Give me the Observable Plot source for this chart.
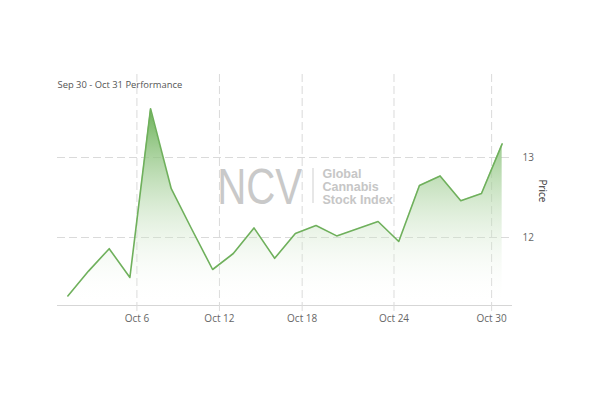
<!DOCTYPE html>
<html><head><meta charset="utf-8">
<script src="https://cdn.jsdelivr.net/npm/d3@7"></script>
<script src="https://cdn.jsdelivr.net/npm/@observablehq/plot@0.6"></script>
<style>body{margin:0;background:#fff}</style>
</head><body><div id="chart"></div>
<script>
// Daily closing prices, Sep 30 – Oct 31 (one value per trading session)
const prices = [11.27, 11.58, 11.86, 11.50, 13.61, 12.61, 12.10, 11.60, 11.80, 12.12, 11.74,
                12.05, 12.15, 12.02, 12.11, 12.20, 11.95, 12.65, 12.77, 12.46, 12.55, 13.17];
const tickLabels = ["Oct 6", "Oct 12", "Oct 18", "Oct 24", "Oct 30"];
const tickPositions = [3.34, 7.33, 11.33, 15.77, 20.49]; // position in session index units
const yTicks = [12, 13];
const subtitle = "Sep 30 - Oct 31 Performance";
const yLabel = "Price";
const watermarkBig = "NCV";
const watermarkSmall = "Global\nCannabis\nStock Index";

const data = prices.map((p, i) => ({i, p}));
const yMin = 11.15, yMax = 14.0375;
const font = "'Open Sans', 'DejaVu Sans', sans-serif";
const gridStyle = {stroke: "#dadada", strokeOpacity: 1, strokeDasharray: "8,4"};

const chart = Plot.plot({
  width: 600, height: 399,
  marginLeft: 57, marginRight: 88, marginTop: 74, marginBottom: 94,
  style: {fontFamily: font, background: "#fff"},
  x: {type: "linear", domain: [-0.5, prices.length - 0.5]},
  y: {domain: [yMin, yMax]},
  marks: [
    Plot.gridY(yTicks, gridStyle),
    Plot.gridX(tickPositions, gridStyle),
    Plot.text([watermarkBig], {frameAnchor: "top-left", dx: 159.7, dy: 94, lineAnchor: "top", textAnchor: "start",
      fontSize: 50, fill: "#c9c9c9", fontFamily: "'Liberation Sans', Arial, sans-serif", className: "wm-big"}),
    Plot.text([watermarkSmall], {frameAnchor: "top-left", dx: 265, dy: 94.5, lineAnchor: "top", textAnchor: "start",
      fontSize: 12.5, lineHeight: 1.02, fontWeight: "bold", fill: "#c6c6c6", fontFamily: "'Liberation Sans', Arial, sans-serif"}),
    Plot.areaY(data, {x: "i", y1: yMin, y2: "p", fill: "url(#areaGrad)", curve: "linear"}),
    Plot.lineY(data, {x: "i", y: "p", stroke: "#6fb05c", strokeWidth: 1.6, curve: "linear"}),
    Plot.ruleY([yMin], {stroke: "#d6d6d6"}),
    Plot.axisX(tickPositions, {tickFormat: d => tickLabels[tickPositions.indexOf(d)], tickSize: 6, tickPadding: 3,
      stroke: "#dcdcdc", fill: "#666", fontSize: 10, label: null}),
    Plot.axisY(yTicks, {anchor: "right", tickSize: 0, tickPadding: 10, tickFormat: d => String(d),
      fill: "#666", fontSize: 10, label: null}),
    Plot.text([yLabel], {frameAnchor: "right", dx: 30, dy: 12.5, rotate: 90, fontSize: 10, fill: "#333"}),
    Plot.text([subtitle], {frameAnchor: "top-left", dx: 0, dy: 6.7, lineAnchor: "top", textAnchor: "start",
      fontSize: 9.4, fill: "#555"})
  ]
});

// gradient definition for the area fill
const svg = d3.select(chart);
const defs = svg.insert("defs", ":first-child");
const grad = defs.append("linearGradient").attr("id", "areaGrad")
  .attr("x1", 0).attr("y1", 0).attr("x2", 0).attr("y2", 1);
grad.append("stop").attr("offset", "0%").attr("stop-color", "#6cb258").attr("stop-opacity", 1);
grad.append("stop").attr("offset", "100%").attr("stop-color", "#ffffff").attr("stop-opacity", 0);

// compress the big watermark letters to their narrow proportions
svg.selectAll(".wm-big text").attr("textLength", 85).attr("lengthAdjust", "spacingAndGlyphs");
// watermark separator bar
svg.append("line").attr("x1", 57 + 256).attr("x2", 57 + 256).attr("y1", 74 + 94).attr("y2", 74 + 129)
  .attr("stroke", "#cfcfcf").attr("stroke-width", 1);

document.getElementById("chart").appendChild(chart);
</script>
</body></html>
